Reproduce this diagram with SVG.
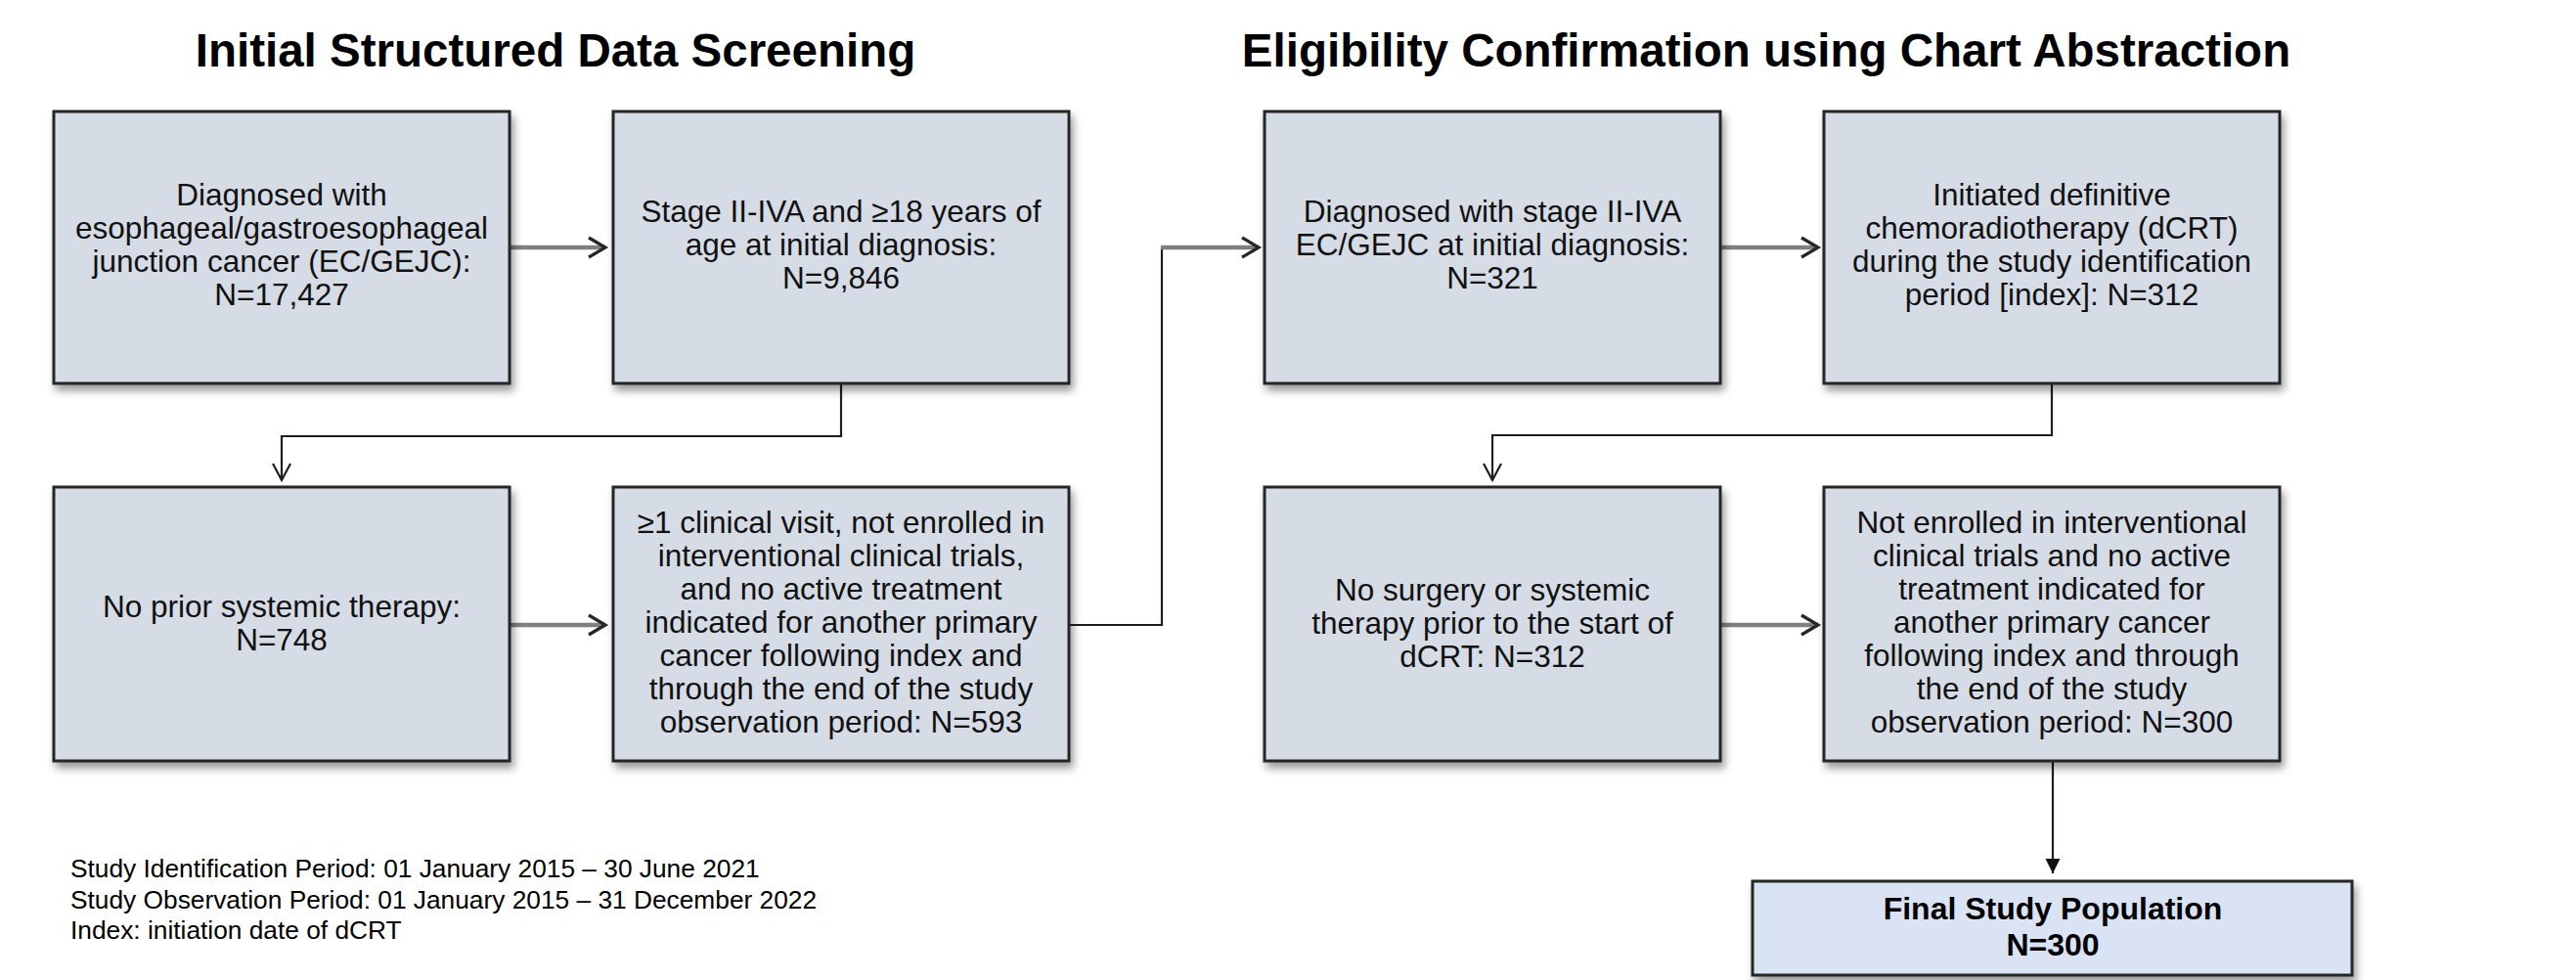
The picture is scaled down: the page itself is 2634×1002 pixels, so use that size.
<svg xmlns="http://www.w3.org/2000/svg" width="2634" height="1002" viewBox="0 0 2634 1002">
<style>
  .title { font-family: "Liberation Sans", Arial, sans-serif; font-size: 47.5px; font-weight: bold; fill: #000; text-anchor: middle; }
  .box { fill: #d6dce5; stroke: #262626; stroke-width: 3; filter: url(#sh); }
  .final { fill: #dae3f3; stroke: #262626; stroke-width: 3; filter: url(#sh); }
  .t { font-family: "Liberation Sans", Arial, sans-serif; font-size: 31.5px; fill: #111; text-anchor: middle; }
  .tb { font-family: "Liberation Sans", Arial, sans-serif; font-size: 32px; font-weight: bold; fill: #000; text-anchor: middle; }
  .note { font-family: "Liberation Sans", Arial, sans-serif; font-size: 26.3px; fill: #000; }
  .thick { fill: none; stroke: #7f7f7f; stroke-width: 4.5; marker-end: url(#chev); }
  .thin { fill: none; stroke: #1e1e1e; stroke-width: 2.2; }
  .thinv { fill: none; stroke: #1e1e1e; stroke-width: 2.2; marker-end: url(#vee); }
  .thint { fill: none; stroke: #1e1e1e; stroke-width: 2.2; marker-end: url(#tri); }
</style>
<defs>
  <filter id="sh" x="-5%" y="-5%" width="115%" height="120%">
    <feDropShadow dx="3" dy="6" stdDeviation="4" flood-color="#000" flood-opacity="0.4"/>
  </filter>
  <marker id="chev" markerUnits="userSpaceOnUse" markerWidth="26" markerHeight="28" viewBox="0 0 26 28" refX="22" refY="14" orient="auto">
    <path d="M5,4 L22,14 L5,24" fill="none" stroke="#262626" stroke-width="3.2"/>
  </marker>
  <marker id="vee" markerUnits="userSpaceOnUse" markerWidth="24" markerHeight="24" viewBox="0 0 24 24" refX="20" refY="12" orient="auto">
    <path d="M3,3 L20,12 L3,21" fill="none" stroke="#1e1e1e" stroke-width="2.2"/>
  </marker>
  <marker id="tri" markerUnits="userSpaceOnUse" markerWidth="16" markerHeight="16" viewBox="0 0 16 16" refX="15" refY="8" orient="auto">
    <path d="M0,0.5 L15,8 L0,15.5 z" fill="#111"/>
  </marker>
</defs>
<rect width="2634" height="1002" fill="#ffffff"/>

<text class="title" x="568" y="68">Initial Structured Data Screening</text>
<text class="title" x="1806" y="68">Eligibility Confirmation using Chart Abstraction</text>

<g id="connectors">
  <path class="thick" d="M521,253 H619"/>
  <path class="thinv" d="M860,392 V446 H288 V491"/>
  <path class="thick" d="M521,639 H619"/>
  <path class="thin" d="M1093,639 H1188 V253"/>
  <path class="thick" d="M1187,253 H1287"/>
  <path class="thick" d="M1759,253 H1859"/>
  <path class="thinv" d="M2098,392 V445 H1526 V491"/>
  <path class="thick" d="M1759,639 H1859"/>
  <path class="thint" d="M2099,778 V893"/>
</g>

<g id="n1">
  <rect class="box" x="55" y="114" width="466" height="278"/>
  <text class="t" x="288" y="210">Diagnosed with<tspan x="288" dy="34">esophageal/gastroesophageal</tspan><tspan x="288" dy="34">junction cancer (EC/GEJC):</tspan><tspan x="288" dy="34">N=17,427</tspan></text>
</g>
<g id="n2">
  <rect class="box" x="627" y="114" width="466" height="278"/>
  <text class="t" x="860" y="227">Stage II-IVA and ≥18 years of<tspan x="860" dy="34">age at initial diagnosis:</tspan><tspan x="860" dy="34">N=9,846</tspan></text>
</g>
<g id="n3">
  <rect class="box" x="55" y="498" width="466" height="280"/>
  <text class="t" x="288" y="631">No prior systemic therapy:<tspan x="288" dy="34">N=748</tspan></text>
</g>
<g id="n4">
  <rect class="box" x="627" y="498" width="466" height="280"/>
  <text class="t" x="860" y="544.5">≥1 clinical visit, not enrolled in<tspan x="860" dy="34">interventional clinical trials,</tspan><tspan x="860" dy="34">and no active treatment</tspan><tspan x="860" dy="34">indicated for another primary</tspan><tspan x="860" dy="34">cancer following index and</tspan><tspan x="860" dy="34">through the end of the study</tspan><tspan x="860" dy="34">observation period: N=593</tspan></text>
</g>
<g id="n5">
  <rect class="box" x="1293" y="114" width="466" height="278"/>
  <text class="t" x="1526" y="227">Diagnosed with stage II-IVA<tspan x="1526" dy="34">EC/GEJC at initial diagnosis:</tspan><tspan x="1526" dy="34">N=321</tspan></text>
</g>
<g id="n6">
  <rect class="box" x="1865" y="114" width="466" height="278"/>
  <text class="t" x="2098" y="210">Initiated definitive<tspan x="2098" dy="34">chemoradiotherapy (dCRT)</tspan><tspan x="2098" dy="34">during the study identification</tspan><tspan x="2098" dy="34">period [index]: N=312</tspan></text>
</g>
<g id="n7">
  <rect class="box" x="1293" y="498" width="466" height="280"/>
  <text class="t" x="1526" y="614">No surgery or systemic<tspan x="1526" dy="34">therapy prior to the start of</tspan><tspan x="1526" dy="34">dCRT: N=312</tspan></text>
</g>
<g id="n8">
  <rect class="box" x="1865" y="498" width="466" height="280"/>
  <text class="t" x="2098" y="544.5">Not enrolled in interventional<tspan x="2098" dy="34">clinical trials and no active</tspan><tspan x="2098" dy="34">treatment indicated for</tspan><tspan x="2098" dy="34">another primary cancer</tspan><tspan x="2098" dy="34">following index and through</tspan><tspan x="2098" dy="34">the end of the study</tspan><tspan x="2098" dy="34">observation period: N=300</tspan></text>
</g>
<g id="n9">
  <rect class="final" x="1792" y="901" width="613" height="96"/>
  <text class="tb" x="2099" y="940">Final Study Population<tspan x="2099" dy="37">N=300</tspan></text>
</g>

<g id="notes">
  <text class="note" x="72" y="897">Study Identification Period: 01 January 2015 – 30 June 2021</text>
  <text class="note" x="72" y="929">Study Observation Period: 01 January 2015 – 31 December 2022</text>
  <text class="note" x="72" y="960">Index: initiation date of dCRT</text>
</g>
</svg>
